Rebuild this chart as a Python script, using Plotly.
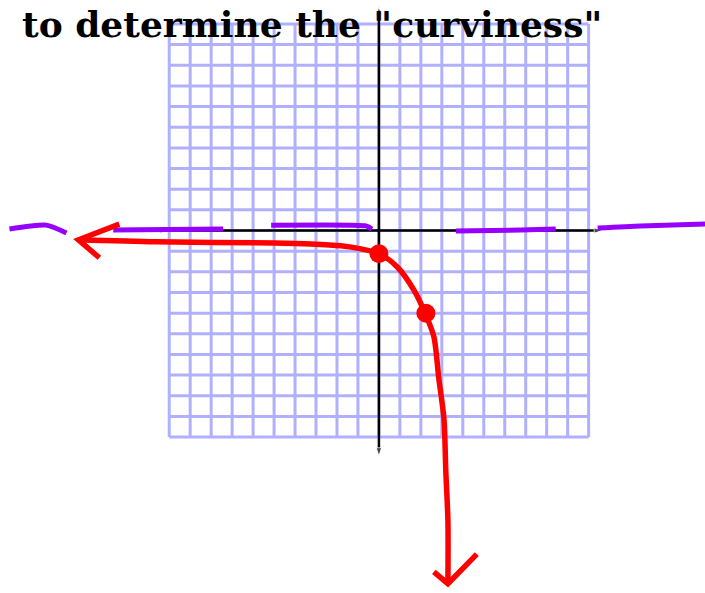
import plotly.graph_objects as go

# Graph-paper extent (units) and axis extents
grid_ticks = list(range(-10, 11))
x_axis_ends = [-10.76, 10.67]
y_axis_ends = [-10.93, 10.84]

# Sketched curve (hand traced), passing through the two marked points
curve_x = [-14.33, -10.62, -5.0, -3.24, -1.81, -0.86, 0.0, 0.9, 1.67, 2.24, 2.62, 2.86, 3.1, 3.19, 3.29, 3.29]
curve_y = [-0.45, -0.55, -0.6, -0.65, -0.74, -0.89, -1.12, -1.79, -2.89, -4.09, -5.14, -7.2, -9.11, -11.65, -14.04, -17.0]

# Marked points on the curve
points_x = [0.0, 2.24]
points_y = [-1.12, -4.0]

# Arrowheads at the curve's ends
left_head_x = [-12.38, -14.33, -13.33]
left_head_y = [0.31, -0.45, -1.32]
down_head_x = [2.62, 3.29, 4.67]
down_head_y = [-16.53, -17.1, -15.67]

# Dashed horizontal asymptote, drawn stroke by stroke
asym_segments = [
    ([-17.62, -15.86, -14.9], [0.07, 0.26, -0.12]),
    ([-12.67, -7.43], [0.02, 0.07]),
    ([-5.14, -1.33, -0.62, -0.33], [0.26, 0.26, 0.22, 0.07]),
    ([3.67, 6.76, 8.43], [-0.02, 0.02, 0.07]),
    ([10.43, 12.48, 15.57], [0.12, 0.22, 0.31]),
]

title_text = 'to determine the "curviness"'

GRID = "rgb(176,176,255)"
RED = "rgb(255,0,0)"
PURPLE = "rgb(150,0,255)"

fig = go.Figure()

# graph paper
gx, gy = [], []
lo, hi = grid_ticks[0], grid_ticks[-1]
for t in grid_ticks:
    gx += [t, t, None]
    gy += [lo, hi, None]
    gx += [lo, hi, None]
    gy += [t, t, None]
fig.add_trace(go.Scatter(x=gx, y=gy, mode="lines",
                         line=dict(color=GRID, width=3), hoverinfo="skip"))

# coordinate axes with small arrowheads, drawn outward from the origin
for xs, ys in [([0, 0], [0, y_axis_ends[1]]), ([0, 0], [0, y_axis_ends[0]]),
               ([0, x_axis_ends[0]], [0, 0]), ([0, x_axis_ends[1]], [0, 0])]:
    fig.add_trace(go.Scatter(
        x=xs, y=ys, mode="lines+markers",
        line=dict(color="black", width=2.5),
        marker=dict(symbol="arrow", angleref="previous", size=[0, 9], color="black"),
        hoverinfo="skip"))

# asymptote strokes
for sx, sy in asym_segments:
    fig.add_trace(go.Scatter(x=sx, y=sy, mode="lines",
                             line=dict(color=PURPLE, width=5, shape="spline", smoothing=0.6),
                             hoverinfo="skip"))

# curve and its arrowheads
fig.add_trace(go.Scatter(x=curve_x, y=curve_y, mode="lines",
                         line=dict(color=RED, width=5.5, shape="spline", smoothing=0.8),
                         hoverinfo="skip"))
for hx, hy in [(left_head_x, left_head_y), (down_head_x, down_head_y)]:
    fig.add_trace(go.Scatter(x=hx, y=hy, mode="lines",
                             line=dict(color=RED, width=5.5), hoverinfo="skip"))

# marked points
fig.add_trace(go.Scatter(x=points_x, y=points_y, mode="markers",
                         marker=dict(color=RED, size=19), hoverinfo="skip"))

fig.add_annotation(text=title_text, xref="paper", yref="paper",
                   x=20 / 705, y=1 - 1 / 593, xanchor="left", yanchor="top",
                   showarrow=False,
                   font=dict(family="DejaVu Serif", size=36, color="black", weight="bold"))

fig.update_layout(
    width=705, height=593,
    margin=dict(l=0, r=0, t=0, b=0),
    paper_bgcolor="white", plot_bgcolor="white",
    showlegend=False,
    xaxis=dict(range=[-18.07, 15.55], visible=False, fixedrange=True),
    yaxis=dict(range=[-17.55, 11.16], visible=False, fixedrange=True),
)

fig.write_html("out.html")
